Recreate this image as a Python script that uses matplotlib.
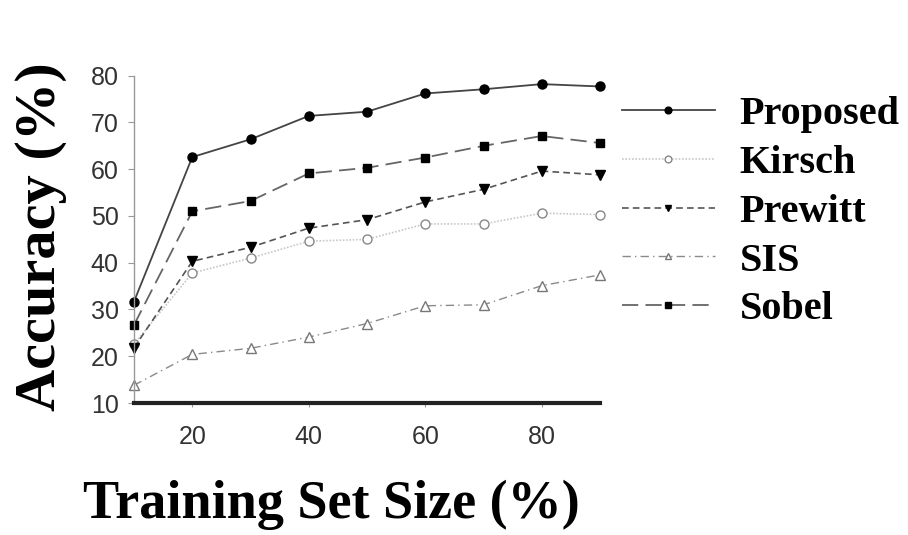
import matplotlib
matplotlib.use("Agg")
import matplotlib.pyplot as plt

# Training set size (%) and accuracy (%) for each edge-feature method
train_size = [10, 20, 30, 40, 50, 60, 70, 80, 90]
proposed = [31.7, 62.6, 66.4, 71.4, 72.3, 76.2, 77.1, 78.2, 77.7]
kirsch = [22.6, 37.8, 41.0, 44.6, 45.0, 48.3, 48.3, 50.6, 50.3]
prewitt = [21.8, 40.3, 43.3, 47.4, 49.2, 53.0, 55.7, 59.6, 58.8]
sis = [13.8, 20.4, 21.7, 24.1, 27.0, 30.8, 31.0, 35.1, 37.4]
sobel = [26.7, 51.0, 53.2, 59.1, 60.3, 62.5, 65.0, 67.1, 65.6]

series_names = ["Proposed", "Kirsch", "Prewitt", "SIS", "Sobel"]
x_ticks = [20, 40, 60, 80]
y_ticks = [10, 20, 30, 40, 50, 60, 70, 80]

fig = plt.figure(figsize=(9.08, 5.35), dpi=100)
ax = fig.add_axes([0.1476, 0.2467, 0.5132, 0.6118])

styles = [
    dict(data=proposed, color="#444444", ls="-", lw=1.3, marker="o", ms=6.5,
         mfc="black", mec="black"),
    dict(data=kirsch, color="#c8c8c8", ls=(0, (1, 1)), lw=1.2, marker="o", ms=6.5,
         mfc="white", mec="#888888"),
    dict(data=prewitt, color="#555555", ls=(0, (4, 2.5)), lw=1.2, marker="v", ms=6.5,
         mfc="black", mec="black"),
    dict(data=sis, color="#8a8a8a", ls=(0, (6, 3, 1, 3)), lw=1.0, marker="^", ms=6.5,
         mfc="white", mec="#777777"),
    dict(data=sobel, color="#666666", ls=(0, (9, 4)), lw=1.3, marker="s", ms=6,
         mfc="black", mec="black"),
]

handles = []
for name, st in zip(series_names, styles):
    (h,) = ax.plot(train_size, st["data"], color=st["color"], linestyle=st["ls"],
                   linewidth=st["lw"], marker=st["marker"], markersize=st["ms"],
                   markerfacecolor=st["mfc"], markeredgecolor=st["mec"],
                   markeredgewidth=1.0, label=name, clip_on=False)
    handles.append(h)

ax.set_xlim(10, 90)
ax.set_ylim(10, 80)
ax.set_xticks(x_ticks)
ax.set_yticks(y_ticks)

for side in ("top", "right"):
    ax.spines[side].set_visible(False)
ax.spines["left"].set_color("#999999")
ax.spines["left"].set_linewidth(1.0)
ax.spines["bottom"].set_color("#222222")
ax.spines["bottom"].set_linewidth(3.0)

ax.tick_params(axis="y", direction="out", length=4, width=0.8, color="#999999",
               labelsize=18, labelcolor="#333333", pad=7)
ax.tick_params(axis="x", direction="out", length=3, width=0.8, color="#999999",
               labelsize=18, labelcolor="#333333", pad=13)
for lab in ax.get_xticklabels() + ax.get_yticklabels():
    lab.set_family("Liberation Sans")

# Axis titles placed in figure coordinates
fig.text(0.045, 0.558, "Accuracy (%)", rotation=90, ha="center", va="center",
         family="Liberation Serif", fontweight="bold", fontsize=42)
fig.text(0.365, 0.056, "Training Set Size (%)", ha="center", va="center",
         family="Liberation Serif", fontweight="bold", fontsize=39)

leg = fig.legend(handles=handles, labels=series_names, loc="upper left",
                 bbox_to_anchor=(0.685, 0.821), frameon=False,
                 borderpad=0, borderaxespad=0,
                 prop=dict(family="Liberation Serif", weight="bold", size=29),
                 handlelength=2.3, handletextpad=0.62, labelspacing=0.29,
                 markerscale=0.75)

fig.savefig("out.png", dpi=100)
